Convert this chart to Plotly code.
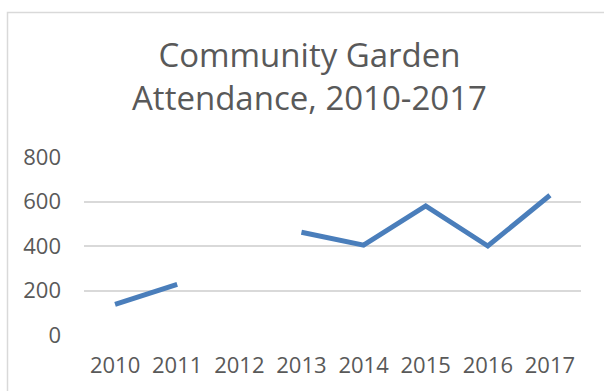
import plotly.graph_objects as go

# Attendance per year (2012 has no recorded value)
years = ["2010", "2011", "2012", "2013", "2014", "2015", "2016", "2017"]
attendance = [138, 228, None, 462, 404, 580, 400, 628]
y_ticks = [0, 200, 400, 600, 800]

W, H = 604, 391
L, R, T, B = 84, 23, 157, 56
pw, ph = W - L - R, H - T - B

def px_x(x):
    return (x - L) / pw

def px_y(y):
    return (H - B - y) / ph

grey_text = "#595959"
font_family = "Open Sans, Noto Sans, sans-serif"
tick_size = 22

fig = go.Figure()
fig.add_trace(go.Scatter(
    x=years, y=attendance, mode="lines", connectgaps=False,
    line=dict(color="#4A7EBB", width=5),
    hoverinfo="x+y", showlegend=False,
))

fig.update_layout(
    width=W, height=H,
    margin=dict(l=L, r=R, t=T, b=B),
    paper_bgcolor="white", plot_bgcolor="white",
    font=dict(family=font_family, color=grey_text, size=tick_size),
    xaxis=dict(
        type="category", range=[-0.5, len(years) - 0.5],
        showgrid=False, zeroline=False, showline=False,
        ticks="", ticklabelstandoff=15, tickfont=dict(size=tick_size, color=grey_text),
    ),
    yaxis=dict(
        range=[0, 800], tickvals=y_ticks, showgrid=True, gridcolor="#D9D9D9",
        gridwidth=1.5, zeroline=False, showline=False, ticks="",
        ticklabelstandoff=22, tickfont=dict(size=tick_size, color=grey_text),
    ),
    shapes=[dict(
        type="rect", xref="paper", yref="paper",
        x0=px_x(7.5), x1=px_x(620), y0=px_y(12.5), y1=px_y(420),
        line=dict(color="#D9D9D9", width=1.5), layer="below",
    )],
    annotations=[dict(
        text="Community Garden<br>Attendance, 2010-2017",
        xref="paper", yref="paper", x=px_x(309), y=px_y(30),
        xanchor="center", yanchor="top", showarrow=False,
        font=dict(size=33, color=grey_text, family=font_family),
    )],
)

fig.write_html("out.html")
